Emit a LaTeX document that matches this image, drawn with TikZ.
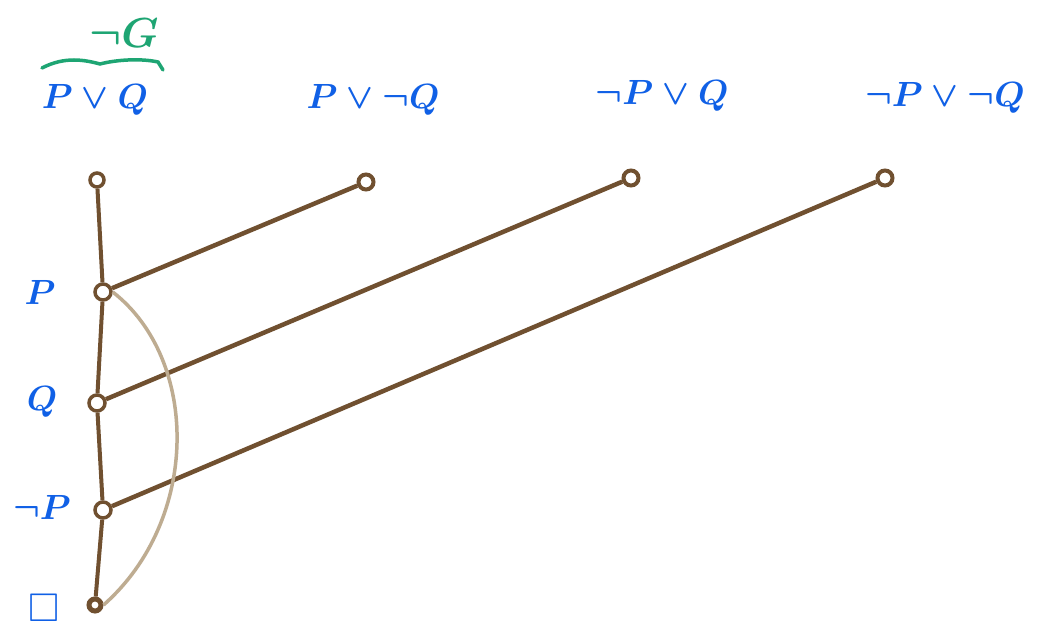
\documentclass[tikz,border=0pt]{standalone}
\usepackage{amssymb}
\usepackage{graphicx}
\definecolor{ink}{RGB}{16,96,230}
\definecolor{wood}{RGB}{112,80,48}
\definecolor{tan}{RGB}{190,172,145}
\definecolor{grn}{RGB}{30,165,115}
\newcommand\hwlab[1]{\scalebox{3.5}{\boldmath$#1$}}
\tikzset{
  lbl/.style={text=ink,inner sep=0pt},
  knot/.style={circle,draw=wood,line width=3.5pt,fill=white,minimum size=16pt,inner sep=0pt},
  leaf/.style={circle,draw=wood,line width=4pt,fill=white,minimum size=15pt,inner sep=0pt},
  stem/.style={draw=wood,line width=4pt},
  arm/.style={draw=wood,line width=4.5pt},
}
\begin{document}
\begin{tikzpicture}[x=1pt,y=-1pt]
\useasboundingbox[fill=white] (0,0) rectangle (1037,631);
% clause labels
\node[lbl] (c1) at (95,100) {\hwlab{P\lor Q}};
\node[lbl] (c2) at (373,100) {\hwlab{P\lor\neg Q}};
\node[lbl] (c3) at (662,96) {\hwlab{\neg P\lor Q}};
\node[lbl] (c4) at (945,98) {\hwlab{\neg P\lor\neg Q}};
\node[lbl,text=grn] (g) at (124,33) {\scalebox{4.2}{\boldmath$\neg G$}};
\coordinate (wa) at (42,68);
\coordinate (wb) at (163,70);
\draw[grn,line width=3.5pt,line cap=round] (wa) .. controls (65,56) and (85,60) .. (100,64) .. controls (115,60) and (140,58) .. (158,62) -- (wb);
% left labels
\node[lbl] (lp) at (40,292) {\hwlab{P}};
\node[lbl] (lq) at (42,402) {\hwlab{Q}};
\node[lbl] (lnp) at (42,507) {\hwlab{\neg P}};
\node[lbl] (le) at (44,608) {\scalebox{4}{$\square$}};
% tree nodes
\node[knot,minimum size=14pt] (n0) at (97,180) {};
\node[knot] (n1) at (103,292) {};
\node[knot] (n2) at (97,403) {};
\node[knot] (n3) at (103,510) {};
\node[leaf,line width=5pt,minimum size=12pt] (n4) at (95,605) {};
\node[leaf] (r1) at (366,182) {};
\node[leaf] (r2) at (631,178) {};
\node[leaf] (r3) at (885,178) {};
% vertical trunk
\draw[stem] (n0) -- (n1);
\draw[stem] (n1) -- (n2);
\draw[stem] (n2) -- (n3);
\draw[stem] (n3) -- (n4);
% side arms
\draw[arm] (n1) -- (r1);
\draw[arm] (n2) -- (r2);
\draw[arm] (n3) -- (r3);
% arc
\draw[tan,line width=3.5pt] (n1.east) .. controls (200,360) and (200,520) .. (n4.east);
\end{tikzpicture}
\end{document}
